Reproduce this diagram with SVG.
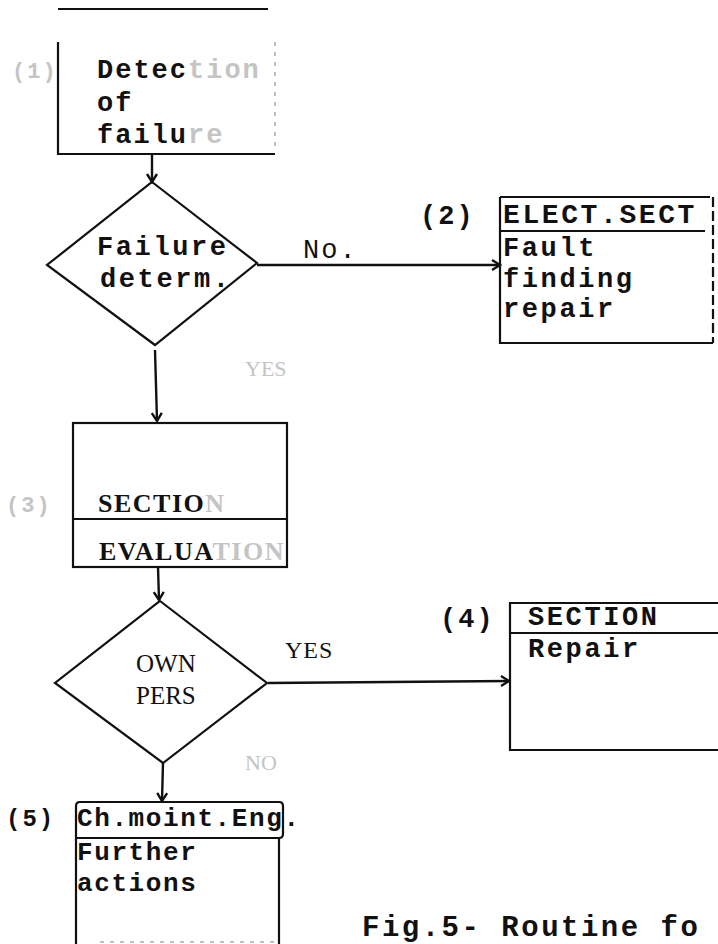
<svg xmlns="http://www.w3.org/2000/svg" width="718" height="944" viewBox="0 0 718 944">
<style>
.ln{stroke:#111;stroke-width:2.2;fill:none}
.box{stroke:#111;stroke-width:2.2;fill:none}
.faint{stroke:#aaa;stroke-width:1.5;fill:none;stroke-dasharray:4 6}
.mono{font-family:"Liberation Mono","Courier New",monospace;font-weight:bold;fill:#111;font-size:27px;letter-spacing:2px}
.serif{font-family:"Liberation Serif","Times New Roman",serif;fill:#111}
.fade{fill:#c4c4c4}
.conn{stroke:#111;stroke-width:2.4;fill:none;marker-end:url(#ah)}
</style>
<defs>
<marker id="ah" markerWidth="14" markerHeight="14" refX="10" refY="6" orient="auto" markerUnits="userSpaceOnUse">
<path d="M2,1 L10,6 L2,11" fill="none" stroke="#111" stroke-width="2.4"/>
</marker>
</defs>
<rect width="718" height="944" fill="#fff"/>
<line class="ln" x1="58" y1="9" x2="268" y2="9"/>

<g id="n1">
<path class="box" d="M58,42 V154 H275"/>
<line class="faint" x1="275" y1="42" x2="275" y2="150"/>
<text class="mono fade" x="12" y="78" style="font-size:22px">(1)</text>
<text class="mono" x="97" y="78">Detec<tspan class="fade">tion</tspan></text>
<text class="mono" x="97" y="111">of</text>
<text class="mono" x="97" y="143">failu<tspan class="fade">re</tspan></text>
</g>

<g id="d1">
<polygon class="box" points="152,182 257,263 155,345 47,265"/>
<text class="mono" x="97" y="255" style="letter-spacing:2.6px">Failure</text>
<text class="mono" x="100" y="287" style="letter-spacing:2.6px">determ.</text>
</g>

<g id="n2">
<path class="box" d="M500,197 H710 M500,197 V343 H713"/>
<line class="ln" x1="713" y1="197" x2="713" y2="343" stroke-dasharray="10 4"/>
<line class="ln" x1="500" y1="231" x2="705" y2="231"/>
<text class="mono" x="420" y="224">(2)</text>
<text class="mono" x="503" y="223" style="font-size:28px;letter-spacing:2.6px">ELECT.SECT</text>
<text class="mono" x="503" y="256" style="letter-spacing:2.6px">Fault</text>
<text class="mono" x="503" y="287" style="letter-spacing:2.6px">finding</text>
<text class="mono" x="503" y="317" style="letter-spacing:2.6px">repair</text>
</g>

<g id="n3">
<rect class="box" x="73" y="423" width="214" height="144"/>
<line class="ln" x1="73" y1="519" x2="287" y2="519"/>
<text class="mono fade" x="6" y="512" style="font-size:22px">(3)</text>
<text class="serif" x="98" y="512" font-size="26" font-weight="bold" letter-spacing="1.5">SECTIO<tspan class="fade">N</tspan></text>
<text class="serif" x="99" y="560" font-size="26" font-weight="bold" letter-spacing="1.5">EVALUA<tspan class="fade">TION</tspan></text>
</g>

<g id="d2">
<polygon class="box" points="160,601 267,683 163,763 55,683"/>
<text class="serif" x="136" y="672" font-size="25">OWN</text>
<text class="serif" x="136" y="704" font-size="25">PERS</text>
</g>

<g id="n4">
<path class="box" d="M718,603 H510 V750 H718"/>
<line class="ln" x1="510" y1="633" x2="718" y2="633"/>
<text class="mono" x="440" y="627">(4)</text>
<text class="mono" x="528" y="625" style="letter-spacing:2.6px">SECTION</text>
<text class="mono" x="528" y="657" style="letter-spacing:2.6px">Repair</text>
</g>

<g id="n5">
<path class="box" d="M76,944 V806 Q76,802 80,802 H279 Q283,802 283,806 V834 Q283,838 279,838 H76"/>
<line class="ln" x1="279" y1="838" x2="279" y2="944"/>
<line class="faint" x1="100" y1="942" x2="279" y2="942"/>
<text class="mono" x="6" y="826" style="font-size:24px">(5)</text>
<text class="mono" x="77" y="826" style="font-size:26px;letter-spacing:1.6px">Ch.moint.Eng.</text>
<text class="mono" x="77" y="860" style="font-size:26px;letter-spacing:1.6px">Further</text>
<text class="mono" x="77" y="891" style="font-size:26px;letter-spacing:1.6px">actions</text>
</g>

<g id="connectors">
<line class="conn" x1="152" y1="154" x2="152" y2="182"/>
<line class="conn" x1="257" y1="265" x2="500" y2="265"/>
<line class="conn" x1="155" y1="350" x2="157" y2="421"/>
<line class="conn" x1="158" y1="567" x2="159" y2="600"/>
<line class="conn" x1="268" y1="683" x2="509" y2="681"/>
<line class="conn" x1="163" y1="763" x2="162" y2="801"/>
<text class="mono" x="303" y="258" style="font-weight:normal">No.</text>
<text class="serif fade" x="245" y="376" font-size="22">YES</text>
<text class="serif" x="285" y="658" font-size="24" letter-spacing="1">YES</text>
<text class="serif fade" x="245" y="770" font-size="22">NO</text>
</g>

<text class="mono" x="362" y="936" style="font-size:29px;letter-spacing:2.5px">Fig.5- Routine fo</text>
</svg>
